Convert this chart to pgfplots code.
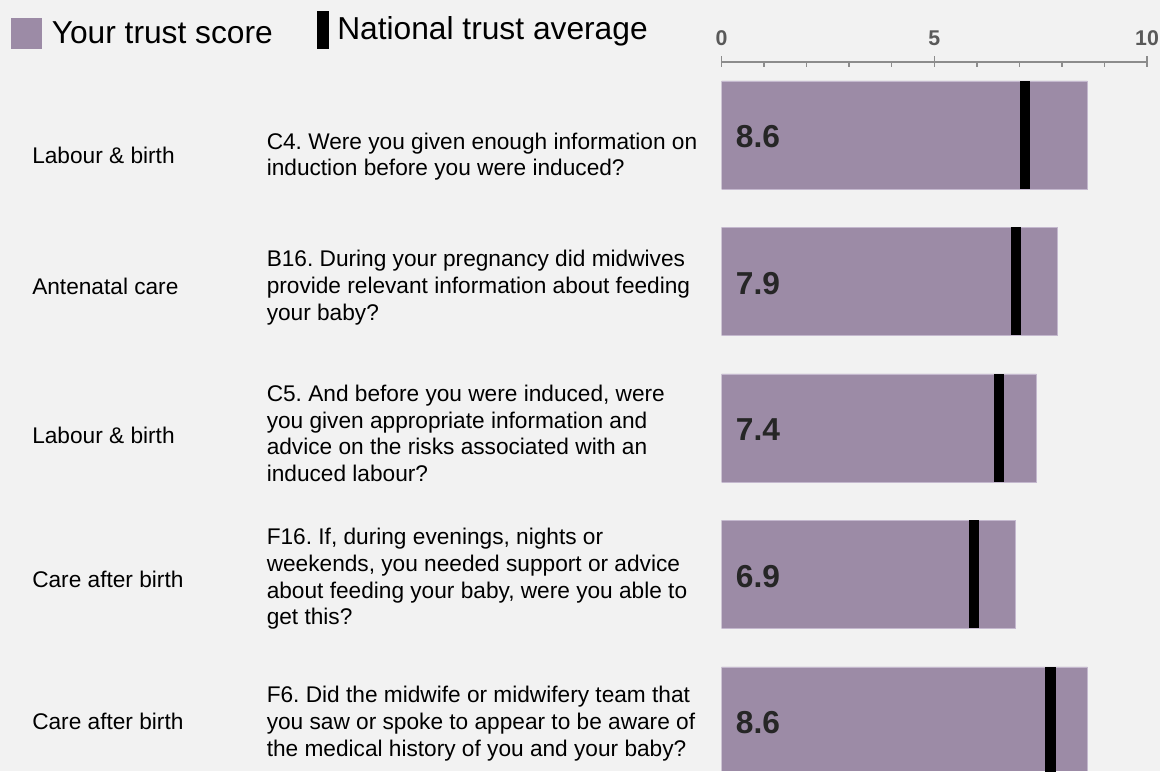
\documentclass[border=0pt]{standalone}
\usepackage{fontspec}
\setmainfont{Liberation Sans}
\usepackage{pgfplots}
\usepackage{pgfplotstable}
\pgfplotsset{compat=1.18}
\frenchspacing

\definecolor{BarFill}{RGB}{156,139,166}
\definecolor{BarEdge}{RGB}{196,184,206}
\definecolor{BgGrey}{RGB}{242,242,242}
\definecolor{AxisGrey}{RGB}{140,140,140}
\definecolor{TickText}{RGB}{89,89,89}
\definecolor{ValText}{RGB}{38,38,38}

% black national-average stripe, as tall as a bar
\pgfdeclareplotmark{natbar}{%
  \pgfpathrectangle{\pgfqpoint{-4pt}{-40.5pt}}{\pgfqpoint{8pt}{81pt}}%
  \pgfusepathqfill}

\pgfplotstableread{
row score avg
4 8.6 7.13
3 7.9 6.92
2 7.4 6.52
1 6.9 5.93
0 8.6 7.73
}\scores

% text rows, placed in pixel units (y down)
\newcommand{\cat}[2]{\node[anchor=base west, inner sep=0, font=\fontsize{17pt}{20pt}\selectfont] at (32,#1) {#2};}
\newcommand{\q}[2]{\node[anchor=base west, inner sep=0, font=\fontsize{17pt}{20pt}\selectfont] at (266.5,#1) {#2};}

\begin{document}
\begin{tikzpicture}
\useasboundingbox (0,0) rectangle (870pt,578.25pt);
\fill[BgGrey] (0,0) rectangle (870pt,578.25pt);

\begin{axis}[
    at={(541.125pt,0pt)}, anchor=south west,
    scale only axis,
    width=319.125pt, height=531.975pt,
    xmin=0, xmax=10,
    ymin=-0.3413, ymax=4.5003,
    axis x line*=top,
    axis y line=none,
    axis line style={AxisGrey, line width=1.5pt},
    xtick={1,2,3,4,6,7,8,9},
    xticklabels={},
    tick align=inside,
    major tick length=3.75pt,
    major tick style={AxisGrey, line width=1.1pt},
    extra x ticks={0,5,10},
    extra x tick labels={0,5,10},
    extra x tick style={tick align=center, major tick length=8pt},
    xticklabel style={anchor=base, yshift=8.1pt, inner sep=0,
        font=\fontsize{16pt}{18pt}\selectfont\bfseries, text=TickText},
    /pgf/number format/assume math mode=true,
]
\addplot[xbar, bar width=0.7372, fill=BarFill, draw=BarEdge, line width=0.6pt]
    table[x=score, y=row] {\scores};
\addplot[only marks, mark=natbar, black]
    table[x=avg, y=row] {\scores};
\addplot[draw=none, mark=none, nodes near coords, point meta=explicit symbolic,
    every node near coord/.append style={anchor=west, xshift=10.6pt, yshift=-1.5pt, inner sep=0,
        font=\fontsize{23.8pt}{26pt}\selectfont\bfseries, text=ValText}]
    table[x expr=0, y=row, meta=score] {\scores};
\end{axis}

\begin{scope}[x=0.75pt, y=-0.75pt, shift={(0,578.25pt)}]
  % legend
  \fill[BarFill] (11,18) rectangle (42,49);
  \node[anchor=base west, inner sep=0, font=\fontsize{23.8pt}{28pt}\selectfont] at (51.5,43.3) {Your trust score};
  \fill[black] (317,11) rectangle (329,49);
  \node[anchor=base west, inner sep=0, font=\fontsize{23.8pt}{28pt}\selectfont] at (337,39.3) {National trust average};

  \cat{163.3}{Labour \& birth}
  \q{149.3}{C4. Were you given enough information on}
  \q{176}{induction before you were induced?}

  \cat{295}{Antenatal care}
  \q{267}{B16. During your pregnancy did midwives}
  \q{294}{provide relevant information about feeding}
  \q{321}{your baby?}

  \cat{444}{Labour \& birth}
  \q{401.7}{C5. And before you were induced, were}
  \q{428.3}{you given appropriate information and}
  \q{455}{advice on the risks associated with an}
  \q{481.7}{induced labour?}

  \cat{588}{Care after birth}
  \q{545}{F16. If, during evenings, nights or}
  \q{572}{weekends, you needed support or advice}
  \q{598.5}{about feeding your baby, were you able to}
  \q{625}{get this?}

  \cat{730}{Care after birth}
  \q{703}{F6. Did the midwife or midwifery team that}
  \q{730}{you saw or spoke to appear to be aware of}
  \q{757}{the medical history of you and your baby?}
\end{scope}
\end{tikzpicture}
\end{document}
